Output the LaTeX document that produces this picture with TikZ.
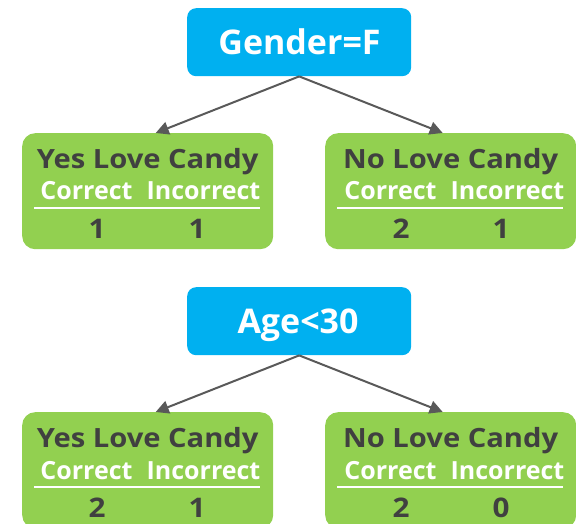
\documentclass[tikz,border=0pt]{standalone}
\usepackage{fontspec}
\setmainfont{Open Sans}
\newfontfamily\widesans[FakeStretch=1.1]{Open Sans}
\usetikzlibrary{arrows.meta,calc}
\definecolor{headblue}{HTML}{00B0F0}
\definecolor{leafgreen}{HTML}{92D050}
\definecolor{inkgray}{HTML}{404040}
\definecolor{linkgray}{HTML}{595959}
\tikzset{
  splitbox/.style={fill=headblue, rounded corners=9pt, minimum width=224pt, minimum height=68pt, inner sep=0pt, anchor=north west},
  leafbox/.style={fill=leafgreen, rounded corners=13pt, minimum width=251pt, minimum height=116pt, inner sep=0pt, anchor=north west},
  splittext/.style={text=white, font=\bfseries\fontsize{34}{38}\selectfont, anchor=base, inner sep=0pt},
  leaftitle/.style={text=inkgray, font=\widesans\bfseries\fontsize{26.5}{30}\selectfont, anchor=base, inner sep=0pt},
  leafhead/.style={text=white, font=\bfseries\fontsize{25}{28}\selectfont, anchor=base, inner sep=0pt},
  leafnum/.style={text=inkgray, font=\widesans\bfseries\fontsize{27}{30}\selectfont, anchor=base, inner sep=0pt},
  rule/.style={draw=white, line width=1.2pt},
  link/.style={draw=linkgray, line width=2pt, -{Triangle[length=13pt,width=13pt]}}
}
\newcommand{\leaf}[7]{%
  % #1 name, #2 left x, #3 top y, #4 title, #5/#6 counts, #7 x offset of columns
  \node[leafbox] (#1) at (#2,#3) {};
  \node[leaftitle] (#1-title) at ($(#1.north)+(0,35)$) {#4};
  \node[leafhead] (#1-c) at ($(#1.north west)+(64.5+#7,67)$) {Correct};
  \node[leafhead] (#1-i) at ($(#1.north west)+(181.5+#7,67)$) {Incorrect};
  \draw[rule] ($(#1.north west)+(12,75)$) -- ($(#1.north west)+(238,75)$);
  \node[leafnum] (#1-a) at ($(#1.north west)+(75+#7,105)$) {#5};
  \node[leafnum] (#1-b) at ($(#1.north west)+(175+#7,105)$) {#6};
}
\begin{document}
\begin{tikzpicture}[x=1pt,y=-1pt]
\useasboundingbox (0,0) rectangle (576,524);

% first split: gender
\node[splitbox] (gender) at (187,8) {};
\node[splittext] (gender-text) at (299.5,55) {Gender=F};
\leaf{yesA}{22}{133}{Yes Love Candy}{1}{1}{0}
\leaf{noA}{325}{133}{No Love Candy}{2}{1}{1}
\coordinate (yesA-in) at ($(yesA.north)+(8,0)$);
\coordinate (noA-in) at ($(noA.north)+(-8,0)$);
\draw[link] (gender.south) -- (yesA-in);
\draw[link] (gender.south) -- (noA-in);

% second split: age
\node[splitbox] (age) at (187,287) {};
\node[splittext] (age-text) at (298,333) {Age<30};
\leaf{yesB}{22}{412}{Yes Love Candy}{2}{1}{0}
\leaf{noB}{325}{412}{No Love Candy}{2}{0}{1}
\coordinate (yesB-in) at ($(yesB.north)+(8,0)$);
\coordinate (noB-in) at ($(noB.north)+(-8,0)$);
\draw[link] (age.south) -- (yesB-in);
\draw[link] (age.south) -- (noB-in);
\end{tikzpicture}
\end{document}
